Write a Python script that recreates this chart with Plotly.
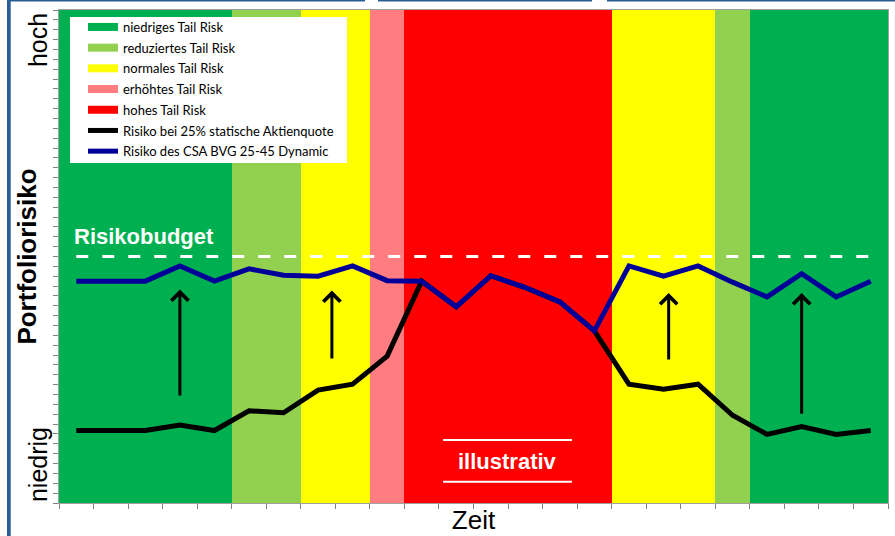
import plotly.graph_objects as go

# Time periods (one per interval on the time axis)
periods = list(range(24))

# Tail-risk regime of each period
regime = ["niedrig"] * 5 + ["reduziert"] * 2 + ["normal"] * 2 + ["erhoeht"] + \
         ["hoch"] * 6 + ["normal"] * 3 + ["reduziert"] + ["niedrig"] * 4

regime_names = ["niedrig", "reduziert", "normal", "erhoeht", "hoch"]
regime_labels = ["niedriges Tail Risk", "reduziertes Tail Risk", "normales Tail Risk",
                 "erhöhtes Tail Risk", "hohes Tail Risk"]
regime_colors = ["#00B050", "#92D050", "#FFFF00", "#FF7C80", "#FF0000"]

# Portfolio risk (0 = niedrig, 100 = hoch)
risk_static = [14.7, 14.7, 14.7, 15.8, 14.7, 18.7, 18.3, 22.9, 24.1, 29.8,
               45.0, 39.8, 46.1, 43.7, 40.8, 34.9, 24.1, 23.1, 24.1, 17.8,
               13.9, 15.5, 13.9, 14.7]
risk_dynamic = [45.0, 45.0, 45.0, 48.1, 45.0, 47.5, 46.2, 46.0, 48.1, 45.1,
                45.0, 39.8, 46.1, 43.7, 40.8, 34.9, 48.1, 46.0, 48.1, 44.8,
                41.8, 46.5, 41.8, 45.0]
risk_budget = 50.0

# Upward arrows: period position, start and end level
arrow_x = [3, 7.4, 17.15, 21]
arrow_from = [21.5, 29.0, 28.8, 17.8]
arrow_to = [43.3, 43.1, 42.6, 42.6]

Y_MAX = 100
FONT = "Liberation Sans"
FRAME = "#2A5C95"

fig = go.Figure()

# Regime background bands
for name, label, color in zip(regime_names, regime_labels, regime_colors):
    xs = [p for p, r in zip(periods, regime) if r == name]
    fig.add_trace(go.Bar(
        x=xs, y=[Y_MAX] * len(xs), width=1, marker=dict(color=color, line=dict(width=0)),
        name=label, legendgroup=label, showlegend=False, hoverinfo="skip"))

# Legend entries for the bands
for label, color in zip(regime_labels, regime_colors):
    fig.add_trace(go.Scatter(
        x=[None], y=[None], mode="lines", line=dict(color=color, width=8),
        name=label, legendgroup=label, showlegend=True))

# Risk budget
fig.add_trace(go.Scatter(
    x=[periods[0], periods[-1]], y=[risk_budget, risk_budget], mode="lines",
    line=dict(color="white", width=3, dash="12px,14px"), showlegend=False, hoverinfo="skip"))

fig.add_trace(go.Scatter(
    x=periods, y=risk_static, mode="lines", name="Risiko bei 25% statische Aktienquote",
    line=dict(color="black", width=5), legendgroup="static"))
fig.add_trace(go.Scatter(
    x=periods, y=risk_dynamic, mode="lines", name="Risiko des CSA BVG 25-45 Dynamic",
    line=dict(color="#000099", width=5), legendgroup="dynamic"))

for xa, y0, y1 in zip(arrow_x, arrow_from, arrow_to):
    fig.add_annotation(x=xa, y=y1, ax=xa, ay=y0, xref="x", yref="y", axref="x", ayref="y",
                       text="", showarrow=True, arrowhead=4, arrowsize=1.1,
                       arrowwidth=3, arrowcolor="black", standoff=0)

annotations_text = [
    dict(text="<b>Risikobudget</b>", x=-0.12, y=51.2, xref="x", yref="y",
         xanchor="left", yanchor="bottom", showarrow=False,
         font=dict(family=FONT, size=22, color="white")),
    dict(text="<b>illustrativ</b>", x=12.47, y=8.4, xref="x", yref="y",
         xanchor="center", yanchor="middle", showarrow=False,
         font=dict(family=FONT, size=22, color="white")),
    dict(text="hoch", x=-0.0253, y=0.939, xref="paper", yref="paper", textangle=-90,
         xanchor="center", yanchor="middle", showarrow=False,
         font=dict(family=FONT, size=25, color="black")),
    dict(text="niedrig", x=-0.0253, y=0.077, xref="paper", yref="paper", textangle=-90,
         xanchor="center", yanchor="middle", showarrow=False,
         font=dict(family=FONT, size=25, color="black")),
]
for a in annotations_text:
    fig.add_annotation(**a)

shapes = [
    # white underlay of the legend box
    dict(type="rect", xref="paper", yref="paper", x0=11 / 829, x1=288 / 829,
         y0=(503 - 163) / 493, y1=(503 - 17) / 493, fillcolor="white",
         line=dict(width=0), layer="above"),
    # lines framing the "illustrativ" label
    dict(type="line", xref="x", yref="y", x0=10.62, x1=14.35, y0=12.8, y1=12.8,
         line=dict(color="white", width=2)),
    dict(type="line", xref="x", yref="y", x0=10.62, x1=14.35, y0=4.3, y1=4.3,
         line=dict(color="white", width=2)),
    # page frame
    dict(type="rect", xref="paper", yref="paper", x0=-52 / 829, x1=-48.3 / 829,
         y0=-0.08, y1=503 / 493 + 0.001, fillcolor=FRAME, line=dict(width=0), layer="above"),
]
for x0, x1 in [(7, 365), (378, 592), (607, 896)]:
    shapes.append(dict(type="rect", xref="paper", yref="paper",
                       x0=(x0 - 59) / 829, x1=(x1 - 59) / 829,
                       y0=(503 - 1.5) / 493, y1=(503 + 0.5) / 493,
                       fillcolor=FRAME, line=dict(width=0), layer="above"))
fig.update_layout(shapes=shapes)

fig.update_layout(
    width=895, height=536,
    margin=dict(l=59, r=7, t=10, b=33),
    paper_bgcolor="white", plot_bgcolor="white",
    barmode="overlay", bargap=0,
    showlegend=True,
    legend=dict(x=24 / 829, y=(503 - 12) / 493, xanchor="left", yanchor="top",
                bgcolor="rgba(0,0,0,0)", borderwidth=0, tracegroupgap=0.8,
                font=dict(family="Lato", size=13, color="black")),
    xaxis=dict(range=[-0.5, 23.5], tickmode="array", tickvals=[p - 0.5 for p in periods + [24]],
               showticklabels=False, ticks="outside", ticklen=5, tickcolor="#808080",
               showline=True, linecolor="#A0A0A0", mirror=True, showgrid=False, zeroline=False,
               title=dict(text="Zeit", font=dict(family=FONT, size=26, color="black"), standoff=2)),
    yaxis=dict(range=[0, Y_MAX], dtick=2, tick0=0, showticklabels=False, ticks="outside",
               ticklen=5, tickcolor="#808080", showline=True, linecolor="#A0A0A0", mirror=True,
               showgrid=False, zeroline=False,
               title=dict(text="<b>Portfoliorisiko</b>",
                          font=dict(family=FONT, size=26, color="black"), standoff=8)),
)

fig.write_html("out.html")
